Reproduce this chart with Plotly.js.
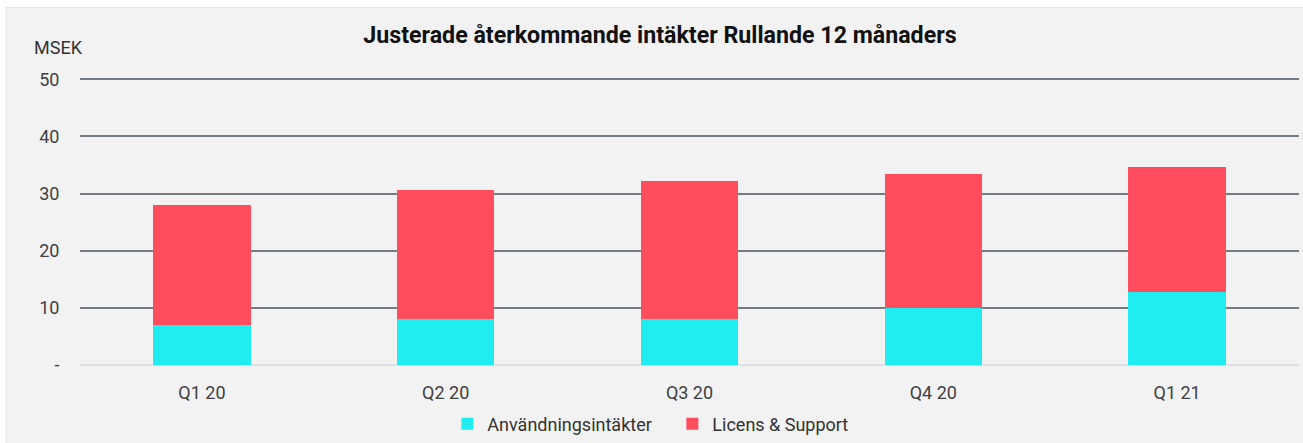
<!DOCTYPE html>
<html>
<head>
<meta charset="utf-8">
<script src="https://cdn.plot.ly/plotly-3.0.1.min.js"></script>
<style>html,body{margin:0;padding:0;background:#fff;}#chart{width:1303px;height:443px;}</style>
</head>
<body>
<div id="chart"></div>
<script>
const categories = ['Q1 20', 'Q2 20', 'Q3 20', 'Q4 20', 'Q1 21'];
const anvandning = [7.0, 8.0, 8.1, 10.0, 12.7];
const licensTotal = [28.0, 30.7, 32.2, 33.4, 34.6];
const licens = licensTotal.map((t, i) => +(t - anvandning[i]).toFixed(2));
const yTickVals = [0, 10, 20, 30, 40, 50];
const yTickText = ['-', '10', '20', '30', '40', '50'];

const font = 'Roboto, Arial, sans-serif';

const traces = [
  {type: 'bar', name: 'Användningsintäkter', x: categories, y: anvandning,
   marker: {color: '#20edf0'}, hoverinfo: 'y'},
  {type: 'bar', name: 'Licens & Support', x: categories, y: licens,
   marker: {color: '#ff4d5d'}, hoverinfo: 'y'}
];

const layout = {
  width: 1303, height: 443,
  margin: {l: 80, r: 4, t: 77, b: 78, pad: 0, autoexpand: false},
  paper_bgcolor: '#ffffff',
  plot_bgcolor: 'rgba(0,0,0,0)',
  barmode: 'stack',
  bargap: 0.6,
  font: {family: font, size: 18, color: '#404040'},
  title: {text: '<b>Justerade återkommande intäkter Rullande 12 månaders</b>',
          font: {family: font, size: 23.2, color: '#111111'},
          xref: 'container', x: 0.5065, xanchor: 'center',
          yref: 'container', y: 0.921, yanchor: 'middle'},
  xaxis: {type: 'category', showgrid: false, zeroline: false, showline: false,
          ticks: 'outside', ticklen: 11, tickcolor: 'rgba(0,0,0,0)',
          tickfont: {family: font, size: 18, color: '#404040'}},
  yaxis: {range: [0, 50.4], tickvals: yTickVals, ticktext: yTickText,
          showgrid: true, gridcolor: '#747b83', gridwidth: 2,
          zeroline: true, zerolinecolor: '#dde1e6', zerolinewidth: 2,
          showline: false, ticks: 'outside', ticklen: 16, tickcolor: 'rgba(0,0,0,0)',
          tickfont: {family: font, size: 18, color: '#404040'}},
  showlegend: true,
  legend: {orientation: 'h', xref: 'container', x: 0.516, xanchor: 'center',
           yref: 'container', y: 0.043, yanchor: 'middle',
           entrywidth: 180,
           font: {family: font, size: 18, color: '#333333'},
           bgcolor: 'rgba(0,0,0,0)', traceorder: 'normal'},
  annotations: [{text: 'MSEK', xref: 'paper', yref: 'paper', x: -0.018, y: 1.101,
                 xanchor: 'center', yanchor: 'middle', showarrow: false,
                 font: {family: font, size: 18, color: '#333333'}}],
  shapes: [{type: 'rect', xref: 'paper', yref: 'paper', layer: 'below',
            x0: -0.0607, x1: 1.01, y0: -0.3, y1: 1.2413,
            fillcolor: '#f2f2f2', line: {color: '#e3e6ea', width: 1}}]
};

Plotly.newPlot('chart', traces, layout, {displayModeBar: false, staticPlot: true});
</script>
</body>
</html>
